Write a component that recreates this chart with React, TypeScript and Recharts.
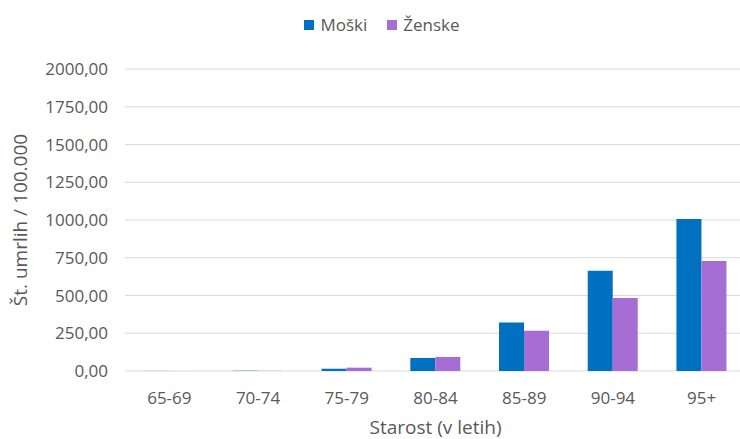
import React from 'react'
import { BarChart, Bar, XAxis, YAxis, CartesianGrid, Legend } from 'recharts'

const categories = ['65-69', '70-74', '75-79', '80-84', '85-89', '90-94', '95+']
const moski = [0.5, 1, 15, 86, 322, 664, 1007]
const zenske = [0.3, 1, 22, 93, 267, 483, 728]
const yTicks = [0, 250, 500, 750, 1000, 1250, 1500, 1750, 2000]

const data = categories.map((starost, i) => ({
  starost,
  moski: moski[i],
  zenske: zenske[i],
}))

const FONT = '"Open Sans", sans-serif'
const TEXT = '#595959'
const BLUE = '#0070C0'
const PURPLE = '#A66ED4'

const formatValue = (v: number) => v.toFixed(2).replace('.', ',')

function ChartLegend({ payload }: any) {
  return (
    <div
      style={{
        display: 'flex',
        justifyContent: 'center',
        fontFamily: FONT,
        fontSize: 17,
        color: TEXT,
      }}
    >
      {(payload || []).map((entry: any) => (
        <div
          key={entry.value}
          style={{ display: 'flex', alignItems: 'center', margin: '0 10px' }}
        >
          <span
            style={{
              width: 10,
              height: 10,
              background: entry.color,
              marginRight: 6,
              display: 'inline-block',
            }}
          />
          <span>{entry.value}</span>
        </div>
      ))}
    </div>
  )
}

export default function App() {
  return (
    <div
      style={{
        position: 'fixed',
        top: 0,
        left: 0,
        width: 740,
        height: 439,
        overflow: 'hidden',
        background: '#fff',
      }}
    >
      <BarChart
        width={748}
        height={439}
        data={data}
        margin={{ top: 69, right: 2, bottom: 8, left: 0 }}
        barCategoryGap="21.6%"
        barGap={0}
      >
        <CartesianGrid vertical={false} stroke="#d9d9d9" />
        <XAxis
          dataKey="starost"
          height={60}
          axisLine={false}
          tickLine={false}
          tickMargin={15}
          tick={{ fill: TEXT, fontFamily: FONT, fontSize: 17 }}
          label={{
            value: 'Starost (v letih)',
            position: 'insideBottom',
            offset: -3,
            fill: TEXT,
            fontFamily: FONT,
            fontSize: 19,
          }}
        />
        <YAxis
          width={125}
          domain={[0, 2000]}
          ticks={yTicks}
          interval={0}
          axisLine={false}
          tickLine={false}
          tickMargin={11}
          tickFormatter={formatValue}
          tick={{ fill: TEXT, fontFamily: FONT, fontSize: 17 }}
          label={{
            value: 'Št. umrlih / 100.000',
            angle: -90,
            position: 'insideLeft',
            offset: 20,
            fill: TEXT,
            fontFamily: FONT,
            fontSize: 19,
            style: { textAnchor: 'middle' },
          }}
        />
        <Legend
          verticalAlign="middle"
          align="center"
          layout="horizontal"
          wrapperStyle={{ top: 13, left: 0, width: 764 }}
          content={<ChartLegend />}
        />
        <Bar dataKey="moski" name="Moški" fill={BLUE} isAnimationActive={false} />
        <Bar dataKey="zenske" name="Ženske" fill={PURPLE} isAnimationActive={false} />
      </BarChart>
    </div>
  )
}
